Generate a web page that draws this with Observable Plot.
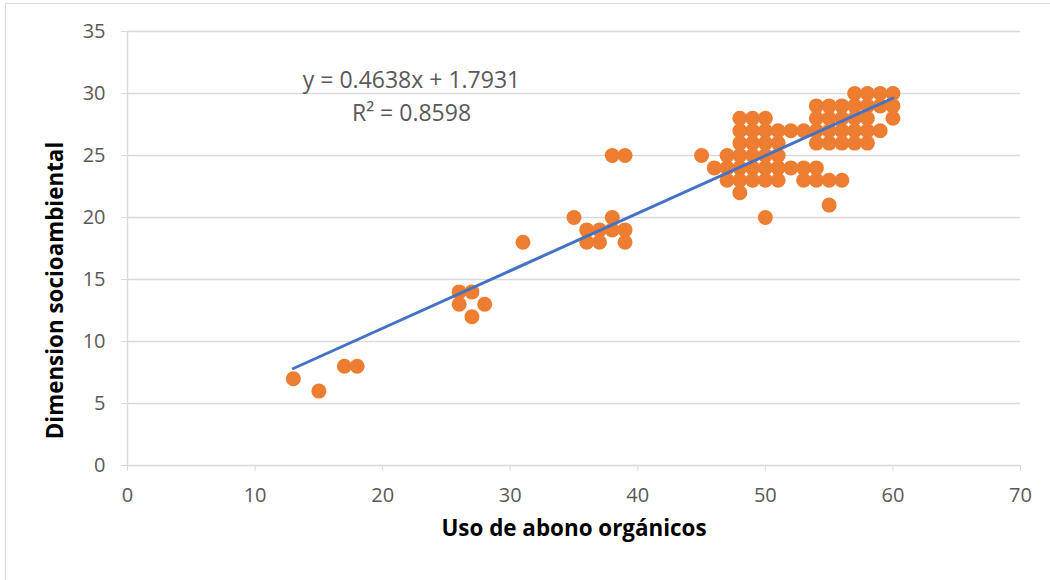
<!DOCTYPE html>
<html>
<head>
<meta charset="utf-8">
<script src="https://cdn.jsdelivr.net/npm/d3@7"></script>
<script src="https://cdn.jsdelivr.net/npm/@observablehq/plot@0.6"></script>
<style>
  html, body { margin: 0; padding: 0; background: #fff; }
  #wrap { position: relative; width: 1050px; height: 580px; overflow: hidden; }
  #frame { position: absolute; left: 5px; top: 3px; width: 1200px; height: 700px;
           border-left: 1.5px solid #d9d9d9; border-top: 1.5px solid #d9d9d9; }
  #chart { position: absolute; left: 0; top: 0; }
</style>
</head>
<body>
<div id="wrap"><div id="frame"></div><div id="chart"></div></div>
<script>
// Data
const xValues = [13,15,17,18,26,26,27,27,28,31,
  35,36,36,37,37,38,38,39,39,38,39,
  45,46,47,47,47,
  48,48,48,48,48,48,48,
  49,49,49,49,49,49,
  50,50,50,50,50,50,50,
  51,51,51,51,51,
  52,52,
  53,53,53,
  54,54,54,54,54,54,
  55,55,55,55,55,55,
  56,56,56,56,56,
  57,57,57,57,57,
  58,58,58,58,58,
  59,59,59,
  60,60,60];
const yValues = [7,6,8,8,14,13,14,12,13,18,
  20,19,18,19,18,20,19,19,18,25,25,
  25,24,25,24,23,
  28,27,26,25,24,23,22,
  28,27,26,25,24,23,
  28,27,26,25,24,23,20,
  27,26,25,24,23,
  27,24,
  27,24,23,
  29,28,27,26,24,23,
  29,28,27,26,23,21,
  29,28,27,26,23,
  30,29,28,27,26,
  30,29,28,27,26,
  30,29,27,
  30,29,28];
const xTicks = [0,10,20,30,40,50,60,70];
const yTicks = [0,5,10,15,20,25,30,35];
const slope = 0.4638;
const intercept = 1.7931;
const equationText = "y = 0.4638x + 1.7931";
const r2Text = "R\u00b2 = 0.8598";
const xTitle = "Uso de abono orgánicos";
const yTitle = "Dimension socioambiental";

const points = xValues.map((x, i) => ({x, y: yValues[i]}));
const trend = d3.extent(xValues).map(x => ({x, y: slope * x + intercept}));

const font = "'Open Sans', Lato, sans-serif";
const chart = Plot.plot({
  width: 1050,
  height: 580,
  marginLeft: 127,
  marginRight: 30,
  marginTop: 31,
  marginBottom: 115,
  style: {fontFamily: font, fontSize: "21px", background: "transparent", overflow: "visible"},
  x: {domain: [0, 70]},
  y: {domain: [0, 35]},
  marks: [
    Plot.gridY(yTicks, {stroke: "#d9d9d9", strokeOpacity: 1, strokeWidth: 1.4}),
    Plot.ruleX([0], {stroke: "#d9d9d9", strokeWidth: 1.4}),
    Plot.axisX(xTicks, {tickSize: 6, tickPadding: 16, stroke: "#d9d9d9", fill: "#595959", label: null, fontSize: 20}),
    Plot.axisY(yTicks, {tickSize: 6, tickPadding: 16, stroke: "#d9d9d9", fill: "#595959", label: null, fontSize: 20}),
    Plot.dot(points, {x: "x", y: "y", r: 7.5, fill: "#ED7D31"}),
    Plot.line(trend, {x: "x", y: "y", stroke: "#4472C4", strokeWidth: 3}),
    Plot.text([equationText], {frameAnchor: "top-left", dx: 284, dy: 40, fill: "#595959", fontSize: 23, textAnchor: "middle"}),
    Plot.text([r2Text], {frameAnchor: "top-left", dx: 284, dy: 73, fill: "#595959", fontSize: 23, textAnchor: "middle"}),
    Plot.text([xTitle], {frameAnchor: "bottom", dy: 70, fill: "#000", fontSize: 22.4, fontWeight: "bold", textAnchor: "middle"}),
    Plot.text([yTitle], {frameAnchor: "left", dx: -72, dy: 42, rotate: -90, fill: "#000", fontSize: 22.4, fontWeight: "bold", textAnchor: "middle"})
  ]
});
document.getElementById("chart").appendChild(chart);
</script>
</body>
</html>
